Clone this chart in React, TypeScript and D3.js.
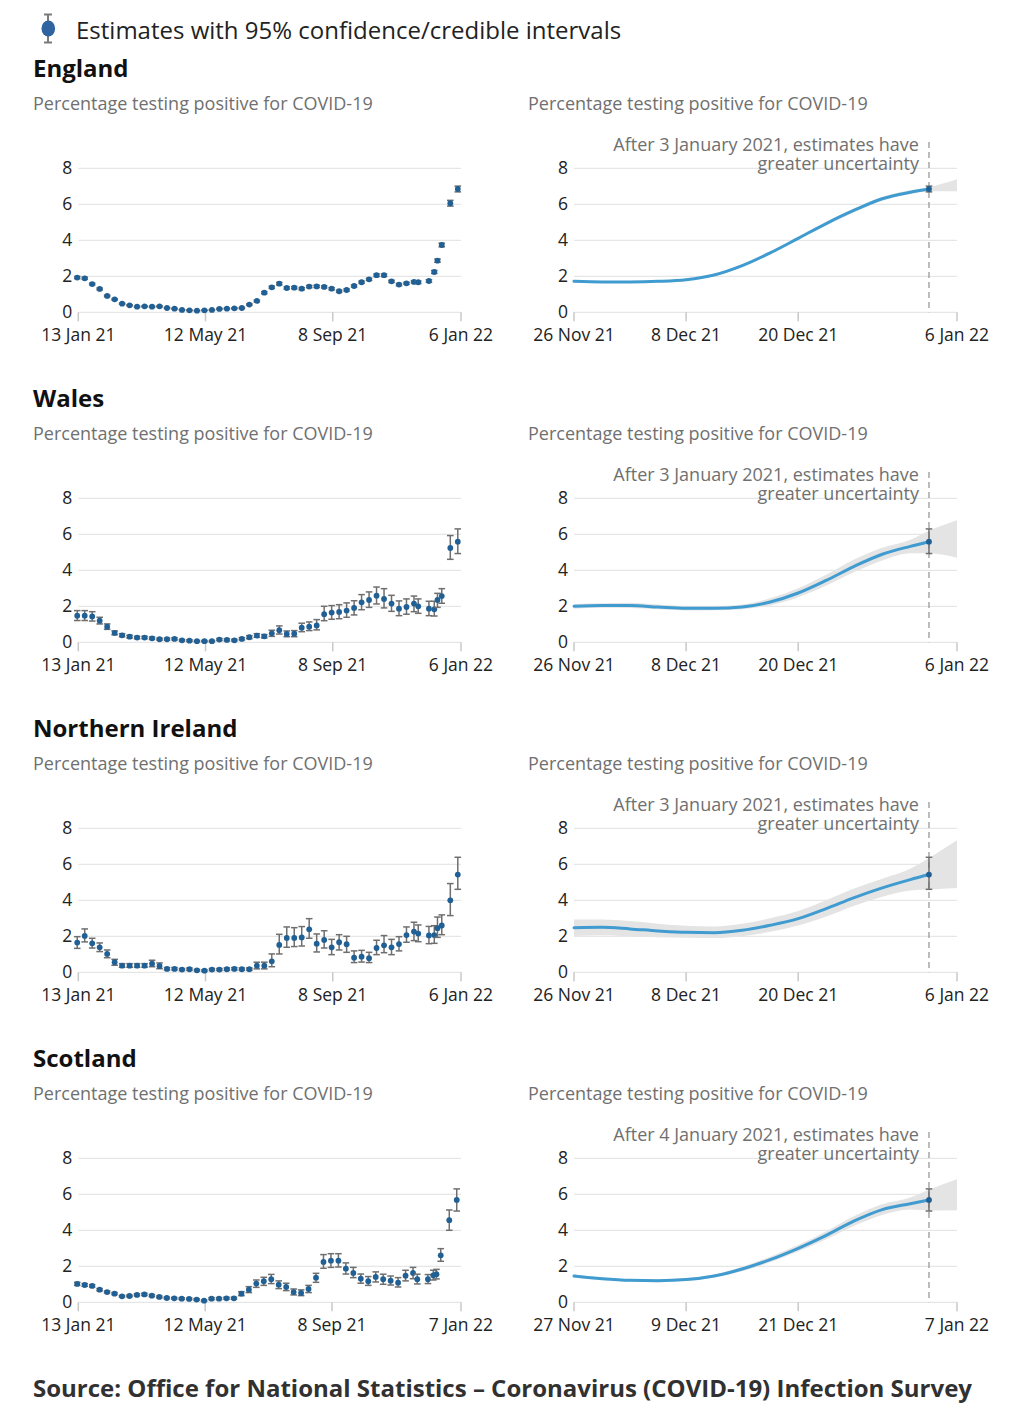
import React from "react";
import * as d3 from "d3";

const FONT = "'Open Sans', 'Noto Sans', sans-serif";

const NATIONS = ["England", "Wales", "Northern Ireland", "Scotland"];
const SUBTITLE = "Percentage testing positive for COVID-19";
const LEGEND_LABEL = "Estimates with 95% confidence/credible intervals";
const SOURCE = "Source: Office for National Statistics \u2013 Coronavirus (COVID-19) Infection Survey";
const Y_TICKS = [0, 2, 4, 6, 8];

const WEEKLY_DATES = [
  "2021-01-12", "2021-01-19", "2021-01-26", "2021-02-02", "2021-02-09", "2021-02-16", "2021-02-23",
  "2021-03-02", "2021-03-09", "2021-03-16", "2021-03-23", "2021-03-30", "2021-04-06", "2021-04-13",
  "2021-04-20", "2021-04-27", "2021-05-04", "2021-05-11", "2021-05-18", "2021-05-25", "2021-06-01",
  "2021-06-08", "2021-06-15", "2021-06-22", "2021-06-29", "2021-07-06", "2021-07-13", "2021-07-20",
  "2021-07-27", "2021-08-03", "2021-08-10", "2021-08-17", "2021-08-24", "2021-08-31", "2021-09-07",
  "2021-09-14", "2021-09-21", "2021-09-28", "2021-10-05", "2021-10-12", "2021-10-19", "2021-10-26",
  "2021-11-02", "2021-11-09", "2021-11-16", "2021-11-23", "2021-11-27", "2021-12-07", "2021-12-12",
  "2021-12-15", "2021-12-19", "2021-12-27", "2022-01-03",
];

const ENGLAND_VALUES = [1.93,1.89,1.57,1.30,0.91,0.72,0.48,0.39,0.31,0.33,0.31,0.33,0.24,0.20,0.13,0.11,0.09,0.11,0.13,0.19,0.20,0.22,0.24,0.43,0.63,1.09,1.39,1.59,1.35,1.37,1.31,1.43,1.44,1.41,1.31,1.17,1.24,1.46,1.67,1.83,2.06,2.06,1.72,1.54,1.61,1.69,1.67,1.74,2.24,2.87,3.74,6.06,6.85];
const ENGLAND_LOWER = [1.87,1.83,1.52,1.25,0.87,0.68,0.45,0.36,0.28,0.30,0.28,0.30,0.21,0.17,0.11,0.09,0.07,0.09,0.11,0.16,0.17,0.19,0.21,0.39,0.58,1.03,1.33,1.52,1.29,1.31,1.25,1.37,1.38,1.35,1.25,1.11,1.18,1.40,1.61,1.77,1.99,1.99,1.66,1.48,1.55,1.63,1.60,1.67,2.16,2.78,3.64,5.90,6.69];
const ENGLAND_UPPER = [1.99,1.95,1.62,1.35,0.95,0.76,0.51,0.42,0.34,0.36,0.34,0.36,0.27,0.23,0.15,0.13,0.11,0.13,0.15,0.22,0.23,0.25,0.27,0.47,0.68,1.15,1.45,1.66,1.41,1.43,1.37,1.49,1.50,1.47,1.37,1.23,1.30,1.52,1.73,1.89,2.13,2.13,1.78,1.60,1.67,1.75,1.74,1.81,2.32,2.96,3.84,6.22,7.01];

const WALES_VALUES = [1.48,1.48,1.44,1.20,0.87,0.52,0.39,0.31,0.26,0.26,0.22,0.17,0.17,0.19,0.11,0.09,0.06,0.06,0.06,0.15,0.13,0.11,0.19,0.28,0.37,0.33,0.50,0.67,0.46,0.48,0.81,0.87,0.94,1.56,1.65,1.69,1.76,1.91,2.22,2.35,2.59,2.41,2.15,1.87,1.96,2.15,2.00,1.87,1.83,2.35,2.57,5.24,5.59];
const WALES_LOWER = [1.21,1.21,1.18,1.02,0.72,0.42,0.31,0.24,0.20,0.20,0.16,0.12,0.12,0.13,0.07,0.05,0.03,0.03,0.03,0.10,0.08,0.07,0.13,0.20,0.28,0.24,0.33,0.46,0.31,0.31,0.59,0.65,0.69,1.20,1.28,1.31,1.39,1.52,1.81,1.94,2.13,1.91,1.72,1.48,1.56,1.70,1.61,1.48,1.46,1.94,2.17,4.61,4.93];
const WALES_UPPER = [1.76,1.76,1.70,1.39,1.02,0.63,0.48,0.39,0.33,0.33,0.29,0.23,0.23,0.25,0.16,0.14,0.10,0.10,0.10,0.21,0.19,0.17,0.26,0.37,0.48,0.43,0.67,0.91,0.63,0.65,1.06,1.13,1.26,2.00,2.04,2.09,2.19,2.31,2.65,2.80,3.07,2.98,2.61,2.30,2.41,2.57,2.41,2.28,2.28,2.72,2.98,5.93,6.30];

const NI_VALUES = [1.65,2.02,1.61,1.39,1.02,0.56,0.37,0.37,0.37,0.37,0.48,0.35,0.19,0.19,0.15,0.17,0.11,0.09,0.15,0.15,0.17,0.19,0.17,0.17,0.37,0.37,0.61,1.52,1.91,1.91,1.94,2.39,1.59,1.80,1.39,1.67,1.56,0.81,0.87,0.78,1.35,1.50,1.39,1.57,2.07,2.26,2.15,2.05,2.07,2.45,2.60,4.00,5.43];
const NI_LOWER = [1.33,1.69,1.35,1.15,0.81,0.39,0.28,0.28,0.28,0.28,0.31,0.20,0.13,0.13,0.10,0.11,0.07,0.05,0.10,0.10,0.11,0.13,0.11,0.11,0.19,0.19,0.31,1.02,1.39,1.43,1.46,1.89,1.13,1.35,0.98,1.24,1.11,0.54,0.57,0.54,0.98,1.09,0.98,1.19,1.67,1.76,1.70,1.59,1.61,1.94,2.09,3.15,4.61];
const NI_UPPER = [1.98,2.41,1.89,1.63,1.24,0.72,0.48,0.48,0.48,0.48,0.67,0.52,0.26,0.26,0.21,0.24,0.16,0.14,0.21,0.21,0.24,0.26,0.24,0.24,0.56,0.56,1.02,2.11,2.52,2.48,2.54,2.98,2.13,2.31,1.83,2.09,2.00,1.19,1.22,1.11,1.78,2.04,1.83,1.98,2.52,2.78,2.63,2.55,2.59,3.07,3.19,4.93,6.39];

const SCOTLAND_VALUES = [1.02,0.96,0.91,0.70,0.57,0.48,0.33,0.35,0.41,0.44,0.37,0.30,0.24,0.22,0.20,0.19,0.15,0.09,0.20,0.20,0.22,0.22,0.48,0.70,1.04,1.17,1.28,0.98,0.85,0.57,0.52,0.74,1.37,2.24,2.31,2.31,1.87,1.63,1.31,1.17,1.41,1.28,1.20,1.09,1.48,1.63,1.28,1.28,1.50,1.56,2.61,4.56,5.69];
const SCOTLAND_LOWER = [0.94,0.89,0.85,0.64,0.52,0.43,0.29,0.31,0.36,0.38,0.32,0.25,0.20,0.18,0.16,0.15,0.11,0.06,0.15,0.15,0.17,0.17,0.37,0.54,0.83,0.94,1.04,0.76,0.65,0.41,0.37,0.54,1.11,1.89,1.94,1.96,1.57,1.37,1.06,0.94,1.13,1.00,0.96,0.85,1.19,1.31,1.02,1.04,1.24,1.30,2.28,4.00,5.07];
const SCOTLAND_UPPER = [1.11,1.04,0.98,0.76,0.63,0.54,0.38,0.40,0.47,0.50,0.43,0.35,0.29,0.27,0.25,0.24,0.20,0.13,0.26,0.26,0.28,0.28,0.59,0.87,1.24,1.39,1.55,1.19,1.06,0.74,0.69,0.94,1.61,2.65,2.70,2.70,2.19,1.94,1.57,1.43,1.69,1.56,1.46,1.37,1.78,1.94,1.56,1.54,1.78,1.83,2.98,5.13,6.30];

const LEFT_TICKS_ENW = ["2021-01-13", "2021-05-12", "2021-09-08", "2022-01-06"];
const LEFT_TICKS_S = ["2021-01-13", "2021-05-12", "2021-09-08", "2022-01-07"];
const RIGHT_TICKS_ENW = ["2021-11-26", "2021-12-08", "2021-12-20", "2022-01-06"];
const RIGHT_TICKS_S = ["2021-11-27", "2021-12-09", "2021-12-21", "2022-01-07"];

const MODEL_DATES_ENW = ["2021-11-26","2021-11-29","2021-12-02","2021-12-05","2021-12-08","2021-12-11","2021-12-14","2021-12-17","2021-12-20","2021-12-23","2021-12-26","2021-12-29","2022-01-01","2022-01-03","2022-01-06"];
const MODEL_DATES_S = ["2021-11-27","2021-11-30","2021-12-03","2021-12-06","2021-12-09","2021-12-12","2021-12-15","2021-12-18","2021-12-21","2021-12-24","2021-12-27","2021-12-30","2022-01-02","2022-01-04","2022-01-07"];
const CUTOFF_ENW = "2022-01-03";
const CUTOFF_S = "2022-01-04";
const NOTE_ENW = ["After 3 January 2021, estimates have", "greater uncertainty"];
const NOTE_S = ["After 4 January 2021, estimates have", "greater uncertainty"];

const ENGLAND_MODEL = [1.72,1.69,1.69,1.72,1.81,2.07,2.59,3.30,4.11,4.93,5.67,6.31,6.67,6.85];
const ENGLAND_MODEL_LOW = [1.67,1.64,1.64,1.67,1.76,2.01,2.52,3.22,4.02,4.83,5.56,6.20,6.57,6.73,6.72];
const ENGLAND_MODEL_HIGH = [1.77,1.74,1.74,1.77,1.86,2.13,2.66,3.38,4.20,5.03,5.78,6.42,6.78,6.95,7.39];

const WALES_MODEL = [2.00,2.04,2.04,1.96,1.89,1.89,1.96,2.24,2.74,3.44,4.22,4.89,5.33,5.59];
const WALES_MODEL_LOW = [1.87,1.92,1.90,1.83,1.77,1.78,1.84,2.05,2.50,3.15,3.90,4.55,4.95,4.95,4.70];
const WALES_MODEL_HIGH = [2.13,2.17,2.20,2.10,2.01,2.00,2.10,2.45,3.00,3.75,4.60,5.25,5.70,6.20,6.78];

const NI_MODEL = [2.48,2.50,2.41,2.30,2.22,2.20,2.33,2.61,2.98,3.54,4.15,4.69,5.15,5.43];
const NI_MODEL_LOW = [2.02,2.06,2.00,1.95,1.92,1.90,2.00,2.25,2.60,3.10,3.70,4.20,4.55,4.60,4.69];
const NI_MODEL_HIGH = [2.94,2.94,2.85,2.70,2.58,2.55,2.70,3.00,3.40,4.00,4.65,5.20,5.75,6.35,7.33];

const SCOTLAND_MODEL = [1.46,1.31,1.22,1.20,1.26,1.46,1.85,2.37,3.00,3.72,4.52,5.15,5.48,5.69];
const SCOTLAND_MODEL_LOW = [1.38,1.24,1.15,1.12,1.18,1.38,1.72,2.22,2.82,3.50,4.25,4.85,5.15,5.10,5.11];
const SCOTLAND_MODEL_HIGH = [1.54,1.38,1.29,1.28,1.34,1.54,1.98,2.53,3.18,3.95,4.80,5.45,5.82,6.25,6.83];

const parse = d3.timeParse("%Y-%m-%d");
const fmt = d3.timeFormat("%-d %b %y");

const DOT = "#206095";
const ERR = "#6f6f6f";
const LINE = "#3f9bd0";
const BAND = "#e4e4e4";
const GRID = "#e0e0e0";
const TICK = "#c8c8c8";
const GREY_TEXT = "#707070";

const Y0 = 312.3;
const Y8 = 168.3;
const BLOCK = 330;

type Series = { values: number[]; lower: number[]; upper: number[] };

const yScale = d3.scaleLinear().domain([0, 8]).range([Y0, Y8]);

function Frame({ x, ticks }: { x: d3.ScaleTime<number, number>; ticks: Date[] }) {
  const [r0, r1] = x.range();
  return (
    <g>
      {Y_TICKS.map((t) => (
        <line key={"g" + t} x1={r0} x2={r1} y1={yScale(t)} y2={yScale(t)} stroke={GRID} strokeWidth={1} />
      ))}
      {Y_TICKS.map((t) => (
        <text key={"y" + t} x={r0 - 6} y={yScale(t)} dy="0.35em" textAnchor="end" fontSize={17.5} fill="#222">
          {t}
        </text>
      ))}
      {ticks.map((d, i) => (
        <line key={"t" + i} x1={x(d)} x2={x(d)} y1={Y0} y2={Y0 + 9} stroke={TICK} strokeWidth={1.5} />
      ))}
      {ticks.map((d, i) => (
        <text key={"l" + i} x={x(d)} y={Y0 + 29} textAnchor="middle" fontSize={17.5} fill="#222">
          {fmt(d)}
        </text>
      ))}
    </g>
  );
}

function ErrDot({ cx, v, lo, hi }: { cx: number; v: number; lo: number; hi: number }) {
  const cw = 3.3;
  return (
    <g>
      <line x1={cx} x2={cx} y1={yScale(lo)} y2={yScale(hi)} stroke={ERR} strokeWidth={1.5} />
      <line x1={cx - cw} x2={cx + cw} y1={yScale(lo)} y2={yScale(lo)} stroke={ERR} strokeWidth={1.5} />
      <line x1={cx - cw} x2={cx + cw} y1={yScale(hi)} y2={yScale(hi)} stroke={ERR} strokeWidth={1.5} />
      <circle cx={cx} cy={yScale(v)} r={2.9} fill={DOT} />
    </g>
  );
}

function LeftChart({ series, tickStrs }: { series: Series; tickStrs: string[] }) {
  const ticks = tickStrs.map((s) => parse(s) as Date);
  const x = d3.scaleTime().domain([ticks[0], ticks[ticks.length - 1]]).range([78.3, 461]);
  const dates = WEEKLY_DATES.map((s) => parse(s) as Date);
  return (
    <g>
      <Frame x={x} ticks={ticks} />
      {series.values.map((v, i) => (
        <ErrDot key={i} cx={x(dates[i])} v={v} lo={series.lower[i]} hi={series.upper[i]} />
      ))}
    </g>
  );
}

function RightChart({
  mid, low, high, dateStrs, tickStrs, cutoff, note, series,
}: {
  mid: number[]; low: number[]; high: number[]; dateStrs: string[]; tickStrs: string[];
  cutoff: string; note: string[]; series: Series;
}) {
  const ticks = tickStrs.map((s) => parse(s) as Date);
  const x = d3.scaleTime().domain([ticks[0], ticks[ticks.length - 1]]).range([574, 957]);
  const dates = dateStrs.map((s) => parse(s) as Date);
  const area = d3
    .area<number>()
    .x((_, i) => x(dates[i]))
    .y0((_, i) => yScale(low[i]))
    .y1((_, i) => yScale(high[i]))
    .curve(d3.curveMonotoneX);
  const line = d3
    .line<number>()
    .x((_, i) => x(dates[i]))
    .y((d) => yScale(d))
    .curve(d3.curveMonotoneX);
  const cx = x(parse(cutoff) as Date);
  const n = series.values.length - 1;
  return (
    <g>
      <Frame x={x} ticks={ticks} />
      <path d={area(low) || ""} fill={BAND} />
      <path d={line(mid) || ""} fill="none" stroke={LINE} strokeWidth={3} strokeLinecap="round" />
      <line x1={cx} x2={cx} y1={142} y2={Y0} stroke="#9a9a9a" strokeWidth={1.3} strokeDasharray="6,4" />
      <text x={cx - 10} y={150.5} textAnchor="end" fontSize={18} fill={GREY_TEXT}>{note[0]}</text>
      <text x={cx - 10} y={169.5} textAnchor="end" fontSize={18} fill={GREY_TEXT}>{note[1]}</text>
      <ErrDot cx={cx} v={series.values[n]} lo={series.lower[n]} hi={series.upper[n]} />
    </g>
  );
}

const BLOCKS = [
  {
    name: NATIONS[0],
    series: { values: ENGLAND_VALUES, lower: ENGLAND_LOWER, upper: ENGLAND_UPPER },
    leftTicks: LEFT_TICKS_ENW, rightTicks: RIGHT_TICKS_ENW, modelDates: MODEL_DATES_ENW,
    mid: ENGLAND_MODEL, low: ENGLAND_MODEL_LOW, high: ENGLAND_MODEL_HIGH, cutoff: CUTOFF_ENW, note: NOTE_ENW,
  },
  {
    name: NATIONS[1],
    series: { values: WALES_VALUES, lower: WALES_LOWER, upper: WALES_UPPER },
    leftTicks: LEFT_TICKS_ENW, rightTicks: RIGHT_TICKS_ENW, modelDates: MODEL_DATES_ENW,
    mid: WALES_MODEL, low: WALES_MODEL_LOW, high: WALES_MODEL_HIGH, cutoff: CUTOFF_ENW, note: NOTE_ENW,
  },
  {
    name: NATIONS[2],
    series: { values: NI_VALUES, lower: NI_LOWER, upper: NI_UPPER },
    leftTicks: LEFT_TICKS_ENW, rightTicks: RIGHT_TICKS_ENW, modelDates: MODEL_DATES_ENW,
    mid: NI_MODEL, low: NI_MODEL_LOW, high: NI_MODEL_HIGH, cutoff: CUTOFF_ENW, note: NOTE_ENW,
  },
  {
    name: NATIONS[3],
    series: { values: SCOTLAND_VALUES, lower: SCOTLAND_LOWER, upper: SCOTLAND_UPPER },
    leftTicks: LEFT_TICKS_S, rightTicks: RIGHT_TICKS_S, modelDates: MODEL_DATES_S,
    mid: SCOTLAND_MODEL, low: SCOTLAND_MODEL_LOW, high: SCOTLAND_MODEL_HIGH, cutoff: CUTOFF_S, note: NOTE_S,
  },
];

export default function App() {
  return (
    <div style={{ position: "absolute", left: 0, top: 0 }}>
      <svg width={1034} height={1418} style={{ display: "block", background: "#fff" }} fontFamily={FONT}>
        {/* legend */}
        <line x1={48} x2={48} y1={14.5} y2={42.5} stroke="#7a7a7a" strokeWidth={2} />
        <line x1={44} x2={52} y1={14.5} y2={14.5} stroke="#7a7a7a" strokeWidth={2} />
        <line x1={44} x2={52} y1={42.5} y2={42.5} stroke="#7a7a7a" strokeWidth={2} />
        <ellipse cx={48.3} cy={28.5} rx={6.8} ry={8} fill="#2f64a0" />
        <text x={76} y={38.5} fontSize={24} fill="#222">{LEGEND_LABEL}</text>

        {BLOCKS.map((b, i) => (
          <g key={b.name} transform={`translate(0,${i * BLOCK})`}>
            <text x={33} y={77} fontSize={24} fontWeight={700} fill="#111">{b.name}</text>
            <text x={33} y={110} fontSize={18} fill={GREY_TEXT}>{SUBTITLE}</text>
            <text x={528} y={110} fontSize={18} fill={GREY_TEXT}>{SUBTITLE}</text>
            <LeftChart series={b.series} tickStrs={b.leftTicks} />
            <RightChart
              mid={b.mid} low={b.low} high={b.high} dateStrs={b.modelDates} tickStrs={b.rightTicks}
              cutoff={b.cutoff} note={b.note} series={b.series}
            />
          </g>
        ))}

        <text x={33} y={1397} fontSize={24} fontWeight={700} fill="#323132">{SOURCE}</text>
      </svg>
    </div>
  );
}
